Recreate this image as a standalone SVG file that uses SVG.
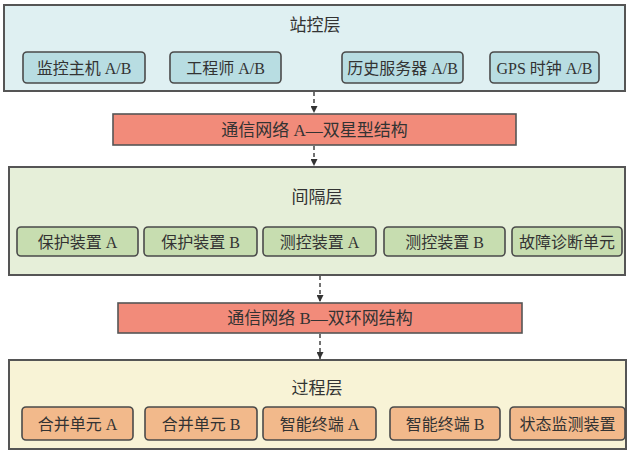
<svg xmlns="http://www.w3.org/2000/svg" width="630" height="450" viewBox="0 0 630 450">
<defs>
<style>
text{font-family:"Liberation Serif","Noto Sans CJK SC",serif;font-size:16px;fill:#333;text-anchor:middle;dominant-baseline:central}
.big{font-size:17px}
.layer{stroke:#555;stroke-width:2}
.box{stroke:#4a4a4a;stroke-width:1.6}
.l1{fill:#dff0f2}.b1{fill:#b8dde2}
.l2{fill:#e6efd9}.b2{fill:#c7ddb0}
.l3{fill:#f8f3d6}.b3{fill:#f2b98b}
.net{fill:#f28b7a;stroke:#555;stroke-width:1.6}
.conn{stroke:#444;stroke-width:1.5;stroke-dasharray:4 3;fill:none}
</style>
<marker id="ah" viewBox="0 0 10 10" refX="10" refY="5" markerWidth="7" markerHeight="7" markerUnits="userSpaceOnUse" orient="auto">
<path d="M0,0 L10,5 L0,10 z" fill="#333"/>
</marker>
</defs>
<g id="layer-station">
<rect class="layer l1" x="4" y="5" width="621" height="86"/>
<text class="big" x="315" y="25">站控层</text>
</g>
<g id="n-monitor"><rect class="box b1" x="23" y="52" width="122" height="31" rx="4"/><text x="84" y="68">监控主机 A/B</text></g>
<g id="n-engineer"><rect class="box b1" x="170" y="52" width="111" height="31" rx="4"/><text x="225.5" y="68">工程师 A/B</text></g>
<g id="n-history"><rect class="box b1" x="342" y="52" width="121" height="31" rx="4"/><text x="402.5" y="68">历史服务器 A/B</text></g>
<g id="n-gps"><rect class="box b1" x="490" y="52" width="109" height="31" rx="4"/><text x="544.5" y="68">GPS 时钟 A/B</text></g>

<g id="net-a"><rect class="net" x="113" y="114" width="403" height="31"/><text class="big" x="314.5" y="130">通信网络 A—双星型结构</text></g>

<g id="layer-bay">
<rect class="layer l2" x="9" y="167" width="616" height="108"/>
<text class="big" x="317" y="197">间隔层</text>
</g>
<g id="n-protA"><rect class="box b2" x="17" y="227" width="121" height="29" rx="4"/><text x="77.5" y="242">保护装置 A</text></g>
<g id="n-protB"><rect class="box b2" x="144" y="227" width="113" height="29" rx="4"/><text x="200.5" y="242">保护装置 B</text></g>
<g id="n-mcA"><rect class="box b2" x="263" y="227" width="113" height="29" rx="4"/><text x="319.5" y="242">测控装置 A</text></g>
<g id="n-mcB"><rect class="box b2" x="384" y="227" width="121" height="29" rx="4"/><text x="444.5" y="242">测控装置 B</text></g>
<g id="n-fault"><rect class="box b2" x="512" y="227" width="110" height="29" rx="4"/><text x="567" y="242">故障诊断单元</text></g>

<g id="net-b"><rect class="net" x="118" y="303" width="404" height="30"/><text class="big" x="320" y="318">通信网络 B—双环网结构</text></g>

<g id="layer-process">
<rect class="layer l3" x="9" y="360" width="617" height="89"/>
<text class="big" x="317" y="388">过程层</text>
</g>
<g id="n-muA"><rect class="box b3" x="22" y="407" width="111" height="33" rx="4"/><text x="77.5" y="424">合并单元 A</text></g>
<g id="n-muB"><rect class="box b3" x="145" y="407" width="112" height="33" rx="4"/><text x="201" y="424">合并单元 B</text></g>
<g id="n-itA"><rect class="box b3" x="263" y="407" width="113" height="33" rx="4"/><text x="319.5" y="424">智能终端 A</text></g>
<g id="n-itB"><rect class="box b3" x="390" y="407" width="110" height="33" rx="4"/><text x="445" y="424">智能终端 B</text></g>
<g id="n-status"><rect class="box b3" x="510" y="407" width="115" height="33" rx="4"/><text x="567.5" y="424">状态监测装置</text></g>

<g id="connectors">
<line class="conn" x1="314" y1="92" x2="314" y2="113" marker-end="url(#ah)"/>
<line class="conn" x1="314" y1="146" x2="314" y2="166" marker-end="url(#ah)"/>
<line class="conn" x1="320" y1="276" x2="320" y2="302" marker-end="url(#ah)"/>
<line class="conn" x1="320" y1="334" x2="320" y2="359" marker-end="url(#ah)"/>
</g>
</svg>
